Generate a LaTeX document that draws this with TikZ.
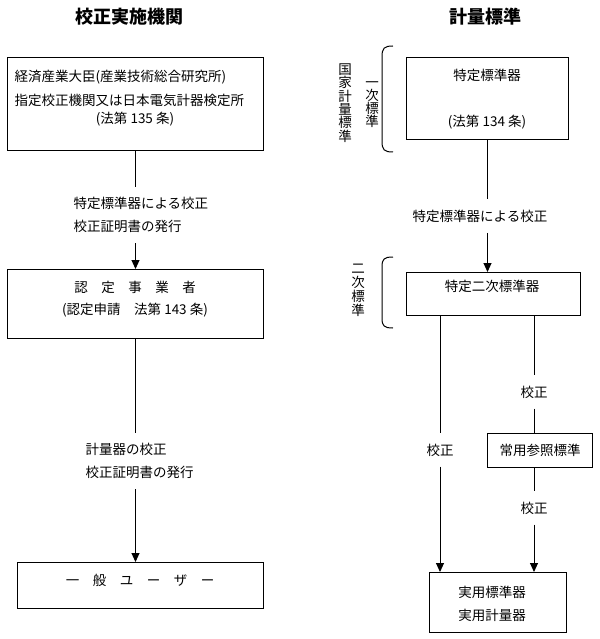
\documentclass[tikz,border=0pt]{standalone}
\usepackage{fontspec}
\setmainfont{Noto Sans CJK JP}
\usetikzlibrary{arrows.meta}
\begin{document}
\begin{tikzpicture}[x=1pt,y=-1pt,>={Triangle[width=8pt,length=9pt]},line width=1pt,
		font=\fontsize{13.5}{23}\selectfont,
		box/.style={draw,anchor=north west,inner sep=0pt},
		txt/.style={inner sep=0pt,align=left},
		lab/.style={inner xsep=0pt,inner ysep=10pt,align=left},
		vtxt/.style={inner sep=0pt,align=center},
		ttl/.style={font=\fontsize{18}{22}\selectfont\bfseries}]
	\useasboundingbox (0,0) rectangle (599,639);
	% 校正実施機関
	\node[ttl] (ttlL) at (129,17) {校正実施機関};
	\node[box,minimum width=256pt,minimum height=93pt] (org) at (7,57) {};
	\node[txt,anchor=west] (orgA) at (14,77) {経済産業大臣(産業技術総合研究所)};
	\node[txt,anchor=west] (orgB) at (14,100) {指定校正機関又は日本電気計器検定所};
	\node[txt] (orgC) at (135,119) {(法第 135 条)};
	\node[lab,anchor=west] (labA) at (73,215) {特定標準器による校正\\校正証明書の発行};
	\node[box,minimum width=256pt,minimum height=69pt] (cert) at (7,269) {};
	\node[txt] (certA) at (135,287) {認　定　事　業　者};
	\node[txt] (certB) at (135,310) {(認定申請　法第 143 条)};
	\node[lab,anchor=west] (labB) at (85,461) {計量器の校正\\校正証明書の発行};
	\node[box,minimum width=246pt,minimum height=46pt] (user) at (17,562) {};
	\node[txt] (userA) at (140,580) {一　般　ユ　ー　ザ　ー};
	\draw (org.south)--(org.south|-labA.north) (cert.south)--(cert.south|-labB.north);
	\draw[->] (org.south|-labA.south)--(cert.north);
	\draw[->] (cert.south|-labB.south)--(user.north-|cert.south);
	% 計量標準
	\node[ttl] (ttlR) at (485,17) {計量標準};
	\node[box,minimum width=162pt,minimum height=82pt] (nmi) at (406,57) {};
	\node[txt] (nmiA) at (487,75) {特定標準器};
	\node[txt] (nmiB) at (487,122) {(法第 134 条)};
	\node[lab] (labC) at (480,216) {特定標準器による校正};
	\node[box,minimum width=174pt,minimum height=43pt] (sec) at (406,272) {};
	\node[txt] (secA) at (492,286) {特定二次標準器};
	\node[box,minimum width=105pt,minimum height=34pt] (ref) at (487,433) {常用参照標準};
	\node[box,minimum width=137pt,minimum height=60pt] (prac) at (429,572) {};
	\node[txt,align=center] (pracA) at (492,603.5) {実用標準器\\実用計量器};
	\node[lab] (labD) at (440,450) {校正};
	\node[lab] (labE) at (534,392) {校正};
	\node[lab] (labF) at (534,508) {校正};
	\draw (nmi.south)--(nmi.south|-labC.north);
	\draw[->] (nmi.south|-labC.south)--(sec.north-|nmi.south);
	\draw (sec.south-|labD)--(labD.north) (sec.south-|labE)--(labE.north);
	\draw (labE.south)--(ref.north-|labE) (ref.south-|labF)--(labF.north);
	\draw[->] (labD.south)--(prac.north-|labD);
	\draw[->] (labF.south)--(prac.north-|labF);
	% 括弧と縦書き
	\draw (393,46) .. controls (384,46) and (382,48) .. (382,57)--(382,141) .. controls (382,150) and (384,152) .. (393,152);
	\draw (393,257) .. controls (384,257) and (382,259) .. (382,267)--(382,318) .. controls (382,326) and (384,328) .. (393,328);
	\node[vtxt,font=\fontsize{13.5}{13.3}\selectfont] (kokka) at (345,103) {国\\家\\計\\量\\標\\準};
	\node[vtxt,font=\fontsize{13.5}{13}\selectfont] (ichiji) at (372,105) {一\\次\\標\\準};
	\node[vtxt,font=\fontsize{13.5}{14}\selectfont] (niji) at (358,290) {二\\次\\標\\準};
\end{tikzpicture}
\end{document}
